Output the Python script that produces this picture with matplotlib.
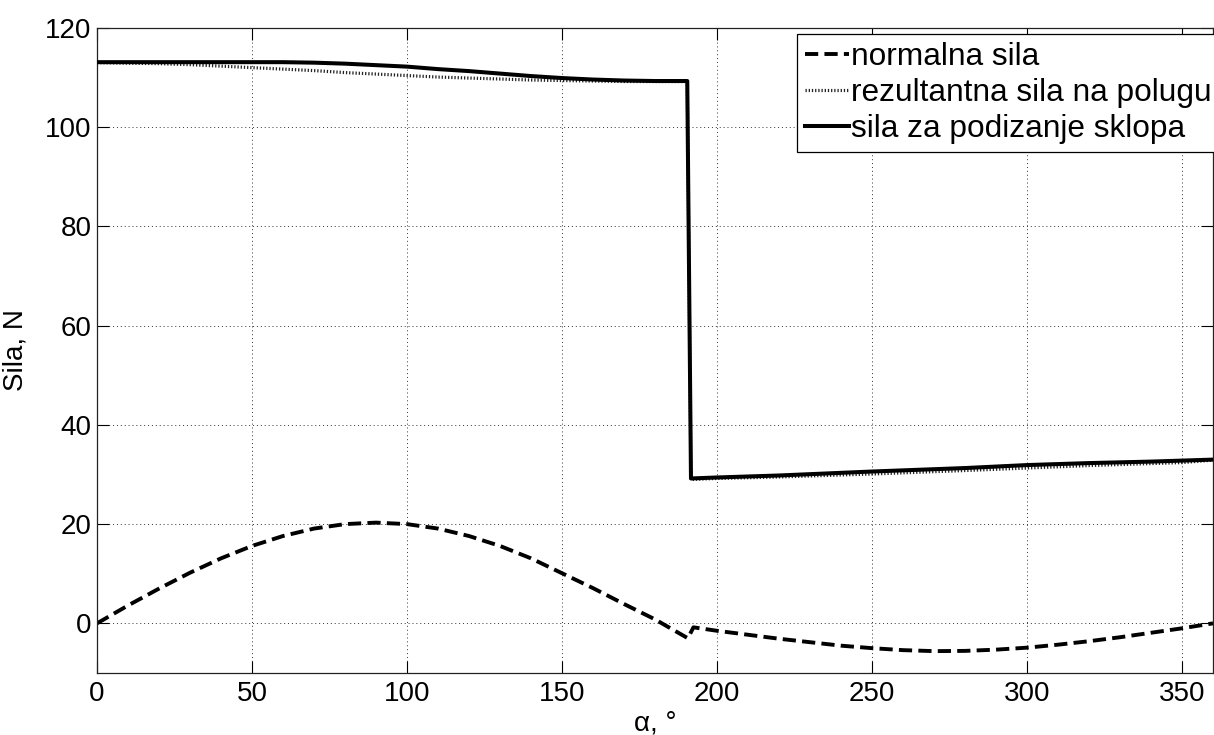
import matplotlib
matplotlib.use("Agg")
import matplotlib.pyplot as plt

plt.rcParams["font.family"] = ["Liberation Sans", "DejaVu Sans"]

# normal force
alpha_n = [0, 10, 20, 30, 40, 50, 60, 70, 80, 90, 100, 110, 120, 130, 140, 150, 160, 170, 180, 185, 190.6,
           192.4, 200, 210, 220, 230, 240, 250, 260, 270, 280, 290, 300, 310, 320, 330, 340, 350, 360]
normal = [0, 3.6, 7.0, 10.2, 13.1, 15.6, 17.6, 19.1, 20.0, 20.3, 20.0, 19.1, 17.6, 15.6, 13.1, 10.1, 7.1, 3.9, 0.8, -1.0, -3.0,
          -0.8, -1.5, -2.3, -3.1, -3.8, -4.5, -5.0, -5.4, -5.6, -5.55, -5.3, -4.9, -4.3, -3.6, -2.8, -1.9, -1.0, 0.0]

# resultant force on lever and lifting force
alpha_f = [0, 10, 20, 30, 40, 50, 60, 70, 80, 90, 100, 110, 120, 130, 140, 150, 160, 170, 180, 190.4,
           191.6, 200, 220, 250, 280, 300, 320, 340, 350, 360]
resultant = [113.0, 112.9, 112.8, 112.6, 112.3, 112.0, 111.7, 111.4, 111.0, 110.7, 110.4, 110.1, 109.9, 109.7, 109.5,
             109.4, 109.3, 109.2, 109.2, 109.2,
             29.0, 29.2, 29.5, 30.1, 30.8, 31.3, 31.8, 32.2, 32.4, 32.9]
lifting = [113.1, 113.1, 113.1, 113.1, 113.1, 113.1, 113.1, 113.0, 112.8, 112.5, 112.2, 111.7, 111.3, 110.8, 110.3,
           109.9, 109.6, 109.4, 109.3, 109.3,
           29.2, 29.4, 29.8, 30.6, 31.3, 31.9, 32.3, 32.6, 32.8, 33.0]

xticks = [0, 50, 100, 150, 200, 250, 300, 350]
yticks = [0, 20, 40, 60, 80, 100, 120]

fig = plt.figure(figsize=(12.14, 7.35), dpi=100)
ax = fig.add_axes([0.0799, 0.0844, 0.9193, 0.8776])

ax.plot(alpha_n, normal, color="black", lw=2.8, dashes=(3.4, 1.6), label="normalna sila")
ax.plot(alpha_f, lifting, color="black", lw=2.9, label="sila za podizanje sklopa", zorder=3)
ax.plot(alpha_f, resultant, color="#222222", lw=2.3, ls=(0, (0.4, 0.6)), label="rezultantna sila na polugu", zorder=2)

ax.set_xlim(0, 360)
ax.set_ylim(-10, 120)
ax.set_xticks(xticks)
ax.set_yticks(yticks)
ax.tick_params(direction="in", length=8.5, width=0.8, labelsize=20, top=True, right=True)
ax.tick_params(axis="x", pad=6)
ax.tick_params(axis="y", pad=4)
ax.grid(True, color="#333333", lw=0.7, dashes=(1, 3))
for s in ax.spines.values():
    s.set_linewidth(0.9)
    s.set_color("#222222")

ax.set_xlabel("α, °", fontsize=20, labelpad=2)
ax.set_ylabel("Sila, N", fontsize=20, labelpad=12)

h, l = ax.get_legend_handles_labels()
order = [0, 2, 1]
leg = ax.legend([h[i] for i in order], [l[i] for i in order], loc="upper left",
                bbox_to_anchor=(0.627, 0.991), borderaxespad=0, fontsize=22.8,
                fancybox=False, framealpha=1, edgecolor="black",
                handlelength=1.4, handletextpad=0.06, labelspacing=0.2, borderpad=0.25)
leg.get_frame().set_linewidth(0.9)

fig.savefig("out.png", dpi=100)
